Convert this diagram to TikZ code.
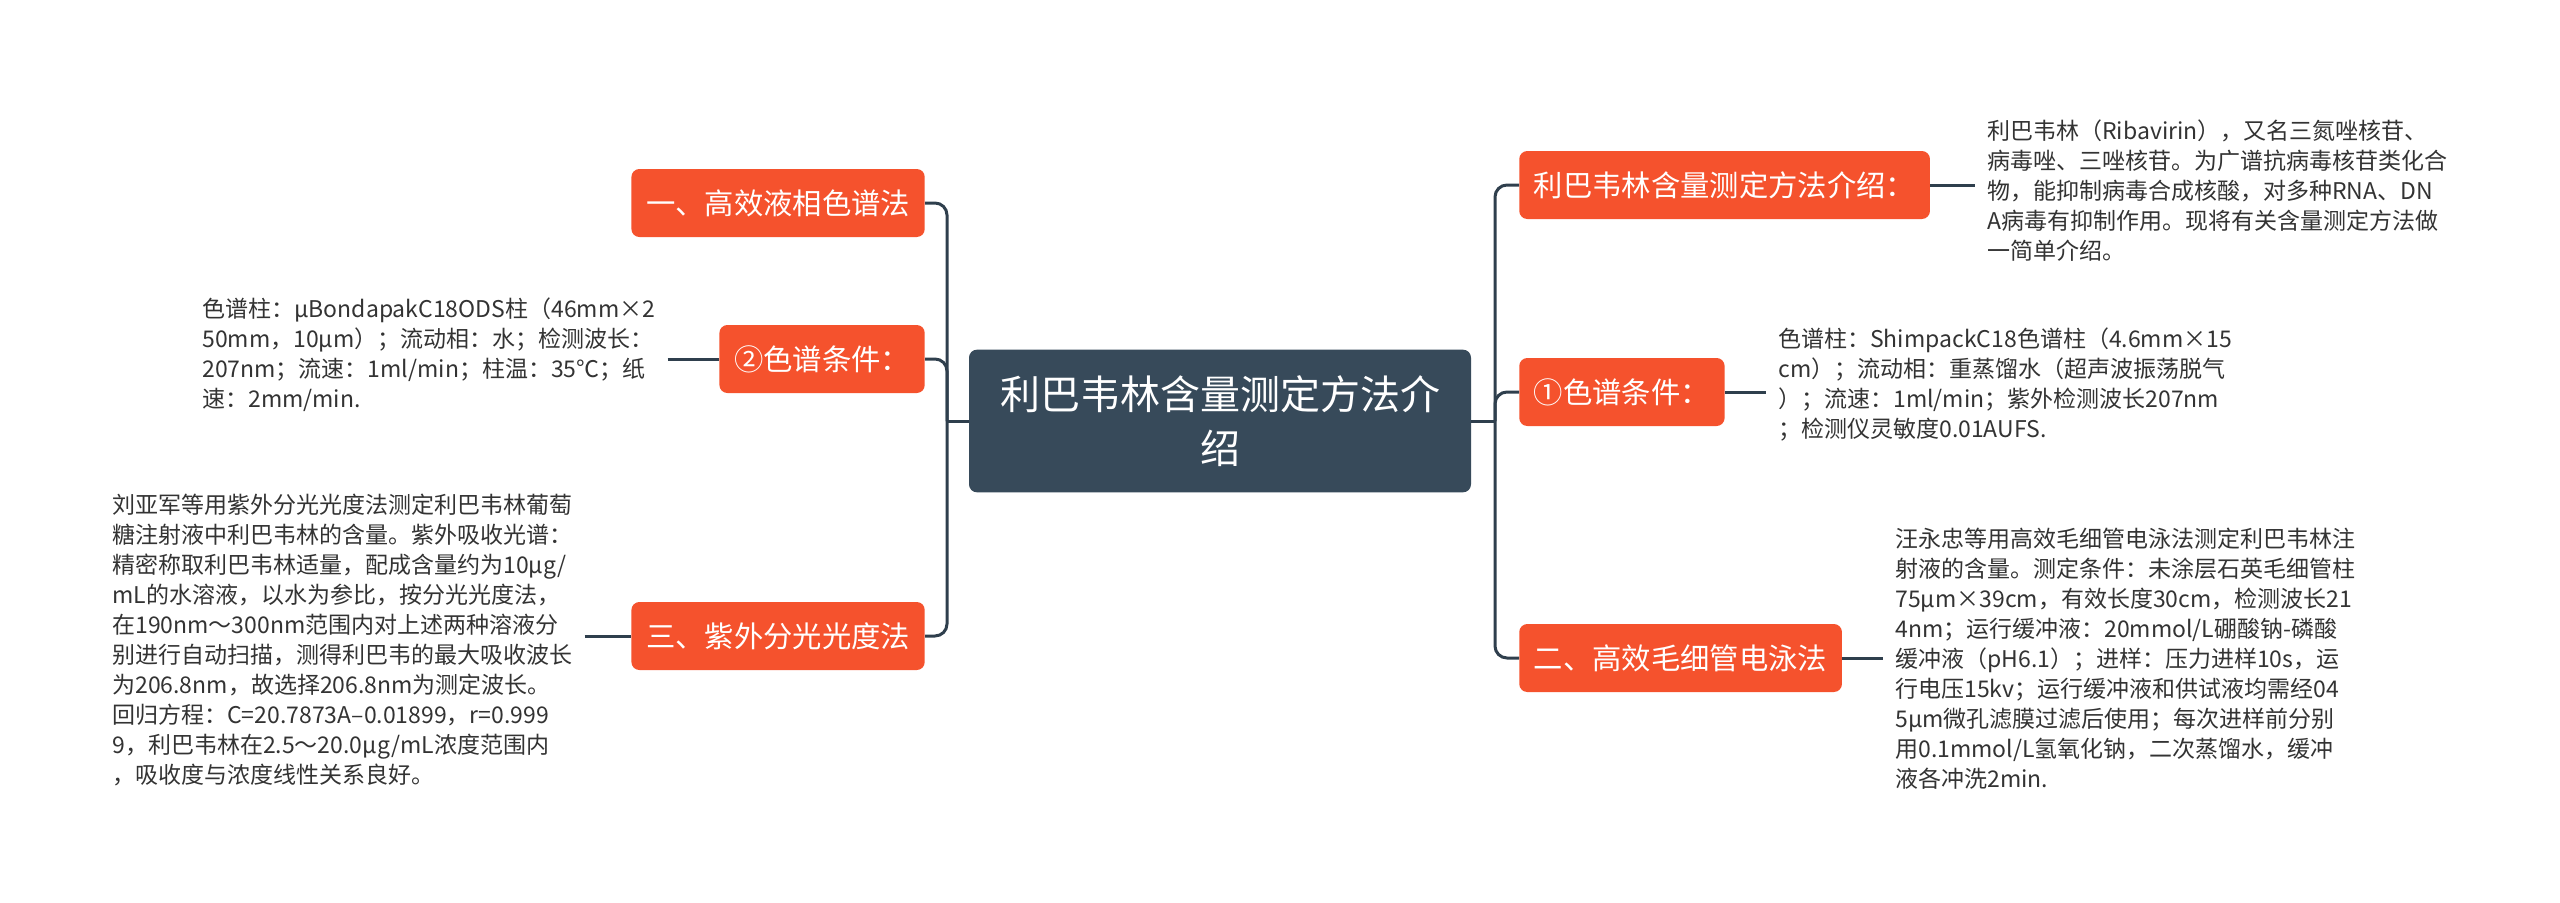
\documentclass[tikz,border=0pt]{standalone}
\usepackage{fontspec}
\setmainfont{Noto Sans CJK SC}
\usetikzlibrary{positioning,calc}
\definecolor{Accent}{HTML}{F5522D}
\definecolor{Root}{HTML}{374A5A}
\definecolor{Line}{HTML}{2F3F4D}
\definecolor{Body}{HTML}{333333}

\tikzset{
	rootbox/.style={fill=Root, text=white, rounded corners=6pt, minimum width=376.5pt, minimum height=107pt, align=center, font=\fontsize{30}{41}\selectfont},
	topicbox/.style={fill=Accent, text=white, rounded corners=6pt, minimum height=51pt, inner xsep=11pt, font=\fontsize{22}{26}\selectfont},
	notetext/.style={text=Body, align=left, inner xsep=9pt, inner ysep=0pt, font=\fontsize{17.25}{22.5}\selectfont},
	branch/.style={draw=Line, line width=2.25pt, rounded corners=9pt},
}

\begin{document}
\begin{tikzpicture}[x=0.75pt,y=-0.75pt]
	\useasboundingbox (0,0) rectangle (2560,903);
	
	\node[rootbox] (root) at (1220,421) {利巴韦林含量测定方法介\\绍};
	\coordinate (rj) at (1495,421);
	\coordinate (lj) at (947,421);
	
	\node[topicbox, anchor=west] (r1) at (1519,185) {利巴韦林含量测定方法介绍：};
	\node[topicbox, anchor=west] (r2) at (1519,392) {①色谱条件：};
	\node[topicbox, anchor=west] (r3) at (1519,658) {二、高效毛细管电泳法};
	
	\node[topicbox, anchor=east] (l1) at (925,203) {一、高效液相色谱法};
	\node[topicbox, anchor=east] (l2) at (925,359) {②色谱条件：};
	\node[topicbox, anchor=east] (l3) at (925,636) {三、紫外分光光度法};
	
	\node[notetext, anchor=west] (t1) at (1975,191) {
		利巴韦林（Ribavirin），又名三氮唑核苷、\\
		病毒唑、三唑核苷。为广谱抗病毒核苷类化合\\
		物，能抑制病毒合成核酸，对多种RNA、DN\\
		A病毒有抑制作用。现将有关含量测定方法做\\
		一简单介绍。};
	\node[notetext, anchor=west] (t2) at (1766,385) {
		色谱柱：ShimpackC18色谱柱（4.6mm×15\\
		cm）；流动相：重蒸馏水（超声波振荡脱气\\
		）；流速：1ml/min；紫外检测波长207nm\\
		；检测仪灵敏度0.01AUFS.};
	\node[notetext, anchor=west] (t3) at (1883,659) {
		汪永忠等用高效毛细管电泳法测定利巴韦林注\\
		射液的含量。测定条件：未涂层石英毛细管柱\\
		75μm×39cm，有效长度30cm，检测波长21\\
		4nm；运行缓冲液：20mmol/L硼酸钠-磷酸\\
		缓冲液（pH6.1）；进样：压力进样10s，运\\
		行电压15kv；运行缓冲液和供试液均需经04\\
		5μm微孔滤膜过滤后使用；每次进样前分别\\
		用0.1mmol/L氢氧化钠，二次蒸馏水，缓冲\\
		液各冲洗2min.};
	\node[notetext, anchor=west] (t4) at (190,355) {
		色谱柱：μBondapakC18ODS柱（46mm×2\\
		50mm，10μm）；流动相：水；检测波长：\\
		207nm；流速：1ml/min；柱温：35℃；纸\\
		速：2mm/min.};
	\node[notetext, anchor=west] (t5) at (100,640) {
		刘亚军等用紫外分光光度法测定利巴韦林葡萄\\
		糖注射液中利巴韦林的含量。紫外吸收光谱：\\
		精密称取利巴韦林适量，配成含量约为10μg/\\
		mL的水溶液，以水为参比，按分光光度法，\\
		在190nm～300nm范围内对上述两种溶液分\\
		别进行自动扫描，测得利巴韦的最大吸收波长\\
		为206.8nm，故选择206.8nm为测定波长。\\
		回归方程：C=20.7873A–0.01899，r=0.999\\
		9，利巴韦林在2.5～20.0μg/mL浓度范围内\\
		，吸收度与浓度线性关系良好。};
	
	\draw[branch] (root.east) -- (rj);
	\draw[branch] (rj) |- (r1.west);
	\draw[branch] (rj) |- (r2.west);
	\draw[branch] (rj) |- (r3.west);
	\draw[branch] (root.west) -- (lj);
	\draw[branch] (lj) |- (l1.east);
	\draw[branch] (lj) |- (l2.east);
	\draw[branch] (lj) |- (l3.east);
	
	\draw[branch] (r1.east) -- (r1.east -| t1.west);
	\draw[branch] (r2.east) -- (r2.east -| t2.west);
	\draw[branch] (r3.east) -- (r3.east -| t3.west);
	\draw[branch] (t4.east |- l2.west) -- (l2.west);
	\draw[branch] (t5.east |- l3.west) -- (l3.west);
\end{tikzpicture}
\end{document}
